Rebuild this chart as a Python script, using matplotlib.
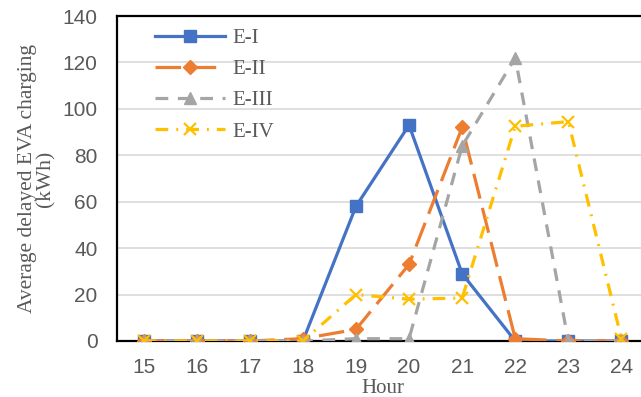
import matplotlib
matplotlib.use("Agg")
import matplotlib.pyplot as plt

hours = [15, 16, 17, 18, 19, 20, 21, 22, 23, 24]
e1 = [0, 0, 0, 0, 58, 93, 29, 0, 0, 0]
e2 = [0, 0, 0, 1, 5, 33, 92, 1, 0, 0]
e3 = [0, 0, 0, 0, 1, 1, 84, 122, 0, 0]
e4 = [0, 0, 0, 0, 20, 18, 18.5, 92.5, 94.5, 1]
series_names = ["E-I", "E-II", "E-III", "E-IV"]
y_ticks = [0, 20, 40, 60, 80, 100, 120, 140]

fig = plt.figure(figsize=(6.41, 3.97), dpi=100)
ax = fig.add_axes([117 / 641, 56 / 397, 531 / 641, 325 / 397])

lw = 2.3
ax.plot(hours, e1, color="#4472C4", lw=lw, marker="s", ms=9,
        label=series_names[0], zorder=3)
ax.plot(hours, e2, color="#ED7D31", lw=lw, marker="D", ms=7,
        dashes=(8, 3), label=series_names[1], zorder=4)
ax.plot(hours, e3, color="#A5A5A5", lw=lw, marker="^", ms=9,
        dashes=(4, 3), label=series_names[2], zorder=5)
ax.plot(hours, e4, color="#FFC000", lw=lw, marker="x", ms=9, mew=1.6,
        dashes=(4, 2.5, 0.6, 2.5), label=series_names[3], zorder=6)

ax.set_xlim(14.5, 24.5)
ax.set_ylim(0, 140)
ax.set_xticks(hours)
ax.set_yticks(y_ticks)
ax.tick_params(length=0, labelsize=15, labelcolor="#595959",
               labelfontfamily="Liberation Sans")
ax.tick_params(axis="y", pad=14)
ax.tick_params(axis="x", pad=12)
ax.grid(axis="y", color="#D9D9D9", lw=1.2)
ax.set_axisbelow(True)
for side in ["left", "top", "bottom"]:
    ax.spines[side].set_color("black")
    ax.spines[side].set_linewidth(1.6)
ax.spines["right"].set_visible(False)

ax.set_ylabel("Average delayed EVA charging\n(kWh)", family="Liberation Serif",
              fontsize=15.5, color="#595959", labelpad=5, linespacing=0.95)
ax.set_xlabel("Hour", family="Liberation Serif", fontsize=15,
              color="#595959", labelpad=2)

leg = ax.legend(loc="upper left", bbox_to_anchor=((155 - 117) / 531, 0.962),
                frameon=False, borderpad=0, borderaxespad=0,
                prop={"family": "Liberation Serif", "size": 15},
                handlelength=3.37, handletextpad=0.34, labelspacing=0.56,
                labelcolor="#595959")

fig.savefig("out.png", dpi=100)
